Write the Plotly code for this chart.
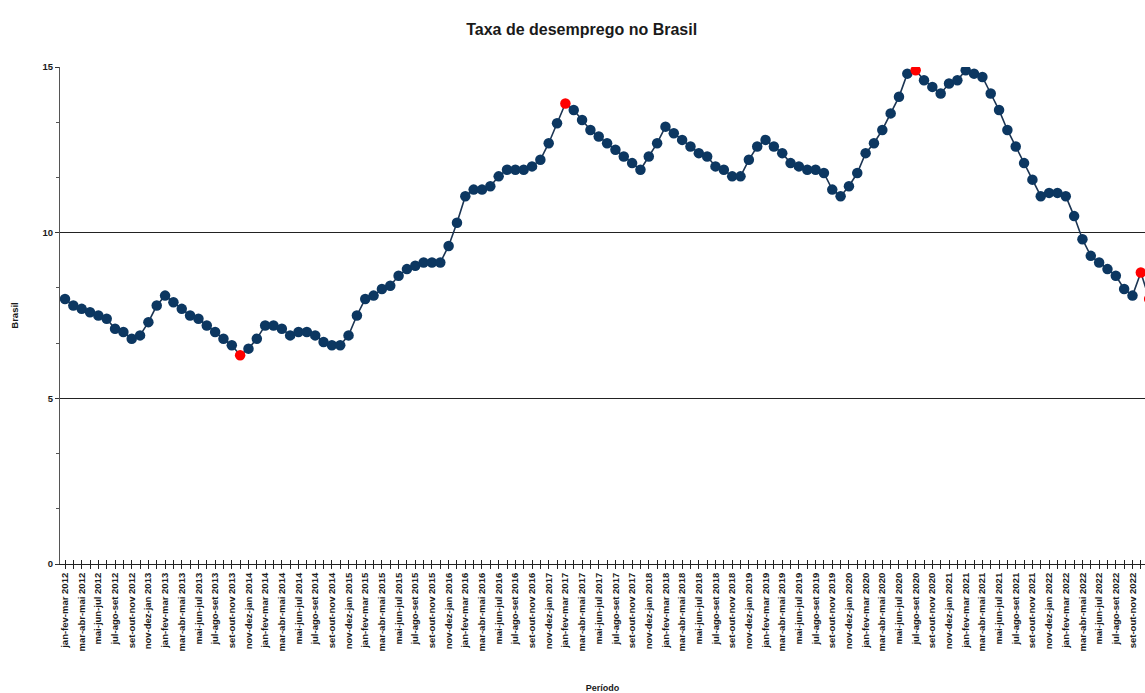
import plotly.graph_objects as go

# ---- data ----
MONTHS = ["jan", "fev", "mar", "abr", "mai", "jun", "jul", "ago", "set", "out", "nov", "dez"]
START_YEAR = 2012

# rolling-quarter unemployment rate (%), from jan-fev-mar 2012 onward
RATE_2012 = [8.0, 7.8, 7.7, 7.6, 7.5, 7.4, 7.1, 7.0, 6.8, 6.9, 7.3, 7.8]
RATE_2013 = [8.1, 7.9, 7.7, 7.5, 7.4, 7.2, 7.0, 6.8, 6.6, 6.3, 6.5, 6.8]
RATE_2014 = [7.2, 7.2, 7.1, 6.9, 7.0, 7.0, 6.9, 6.7, 6.6, 6.6, 6.9, 7.5]
RATE_2015 = [8.0, 8.1, 8.3, 8.4, 8.7, 8.9, 9.0, 9.1, 9.1, 9.1, 9.6, 10.3]
RATE_2016 = [11.1, 11.3, 11.3, 11.4, 11.7, 11.9, 11.9, 11.9, 12.0, 12.2, 12.7, 13.3]
RATE_2017 = [13.9, 13.7, 13.4, 13.1, 12.9, 12.7, 12.5, 12.3, 12.1, 11.9, 12.3, 12.7]
RATE_2018 = [13.2, 13.0, 12.8, 12.6, 12.4, 12.3, 12.0, 11.9, 11.7, 11.7, 12.2, 12.6]
RATE_2019 = [12.8, 12.6, 12.4, 12.1, 12.0, 11.9, 11.9, 11.8, 11.3, 11.1, 11.4, 11.8]
RATE_2020 = [12.4, 12.7, 13.1, 13.6, 14.1, 14.8, 14.9, 14.6, 14.4, 14.2, 14.5, 14.6]
RATE_2021 = [14.9, 14.8, 14.7, 14.2, 13.7, 13.1, 12.6, 12.1, 11.6, 11.1, 11.2, 11.2]
RATE_2022 = [11.1, 10.5, 9.8, 9.3, 9.1, 8.9, 8.7, 8.3, 8.1, 8.8, 8.0]

RATES = (RATE_2012 + RATE_2013 + RATE_2014 + RATE_2015 + RATE_2016 + RATE_2017
         + RATE_2018 + RATE_2019 + RATE_2020 + RATE_2021 + RATE_2022)

# period names (rolling quarters, year of the last month)
PERIODS = []
for i in range(len(RATES)):
    m0 = i % 12
    names = [MONTHS[(m0 + k) % 12] for k in range(3)]
    year = START_YEAR + (i + 2) // 12
    PERIODS.append("-".join(names) + " " + str(year))

# periods highlighted in red
HIGHLIGHT = ["out-nov-dez 2013", "jan-fev-mar 2017", "jul-ago-set 2020",
             "out-nov-dez 2022", "nov-dez-jan 2023"]

Y_TICKS = [0, 5, 10, 15]

# ---- figure ----
X = list(range(len(RATES)))
NAVY = "#0c3761"
colors = ["#ff0000" if p in HIGHLIGHT else NAVY for p in PERIODS]
ticktext = [p if i % 2 == 0 else "" for i, p in enumerate(PERIODS)]

FONT = "Liberation Sans, Arial, sans-serif"
XRANGE = [-0.6, 129.5]

fig = go.Figure()
fig.add_trace(go.Scatter(
    x=X, y=RATES, mode="lines+markers",
    line=dict(color="#1c3553", width=1.6),
    marker=dict(color=colors, size=10.5, line=dict(width=0)),
    text=PERIODS, hovertemplate="%{text}: %{y}<extra></extra>",
    showlegend=False,
))
# invisible trace so the overlay axis (inside tick marks) is drawn
fig.add_trace(go.Scatter(
    x=X, y=RATES, xaxis="x2", mode="markers",
    marker=dict(opacity=0), hoverinfo="skip", showlegend=False,
))

fig.update_layout(
    width=1145, height=693,
    margin=dict(l=60, r=0, t=67, b=129),
    paper_bgcolor="white", plot_bgcolor="white",
    font=dict(family=FONT, color="#1a1a1a"),
    title=dict(text="Taxa de desemprego no Brasil", x=0.508, xref="container",
               xanchor="center", y=0.958, yref="container", yanchor="middle",
               font=dict(family=FONT, size=16, weight="bold", color="#1a1a1a")),
    xaxis=dict(
        range=XRANGE, tickmode="array", tickvals=X, ticktext=ticktext,
        tickangle=-90, ticks="outside", ticklen=4, tickcolor="#222",
        tickfont=dict(family=FONT, size=9.5, weight="bold", color="#1a1a1a"),
        showline=True, linecolor="#222", linewidth=1,
        showgrid=False, zeroline=False,
        title=dict(text="Período", standoff=34,
                   font=dict(family=FONT, size=9, weight="bold", color="#1a1a1a")),
    ),
    xaxis2=dict(
        range=XRANGE, overlaying="x", anchor="y", side="bottom",
        tickmode="array", tickvals=X, ticks="inside", ticklen=4, tickcolor="#222",
        showticklabels=False, showline=False, showgrid=False, zeroline=False,
    ),
    yaxis=dict(
        range=[0, 15], tickmode="array", tickvals=Y_TICKS,
        ticks="outside", ticklen=4, tickcolor="#333",
        tickfont=dict(family=FONT, size=9.5, weight="bold", color="#1a1a1a"),
        showline=True, linecolor="#555", linewidth=1,
        showgrid=True, gridcolor="#222", gridwidth=1, zeroline=False,
        minor=dict(dtick=5 / 3, tick0=0, ticks="outside", ticklen=3,
                   tickcolor="#555", showgrid=False),
        title=dict(text="Brasil", standoff=22,
                   font=dict(family=FONT, size=9.5, weight="bold", color="#1a1a1a")),
    ),
)

fig.write_html(
    "out.html",
    config={"displayModeBar": False},
    post_script="document.body.style.margin='0';document.body.style.overflow='hidden';",
)
